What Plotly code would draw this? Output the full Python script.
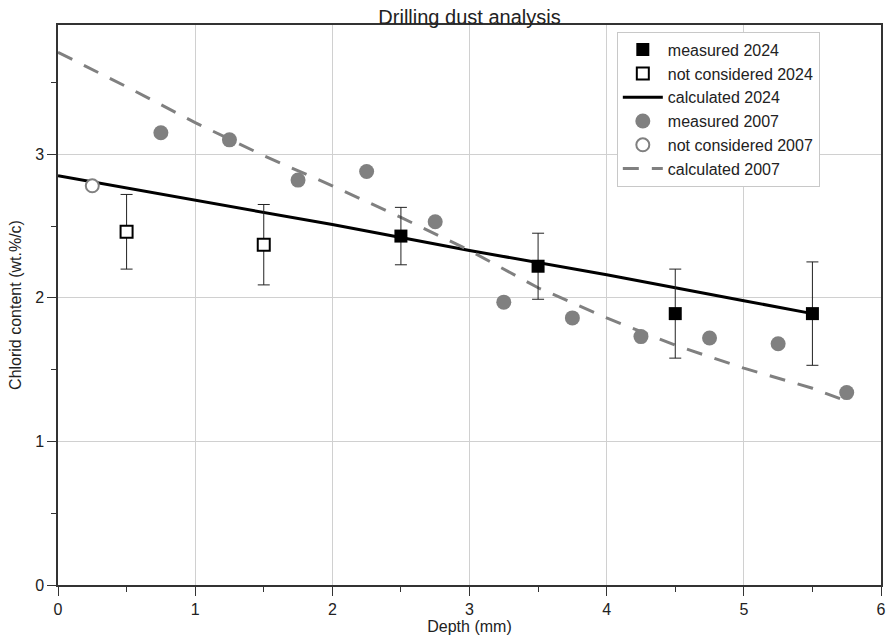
import plotly.graph_objects as go

# 2024 measured
x_meas24 = [2.5, 3.5, 4.5, 5.5]
y_meas24 = [2.43, 2.22, 1.89, 1.89]
err_meas24 = [0.20, 0.23, 0.31, 0.36]

# 2024 not considered
x_nc24 = [0.5, 1.5]
y_nc24 = [2.46, 2.37]
err_nc24 = [0.26, 0.28]

# 2024 calculated
x_calc24 = [0, 1, 2, 3, 4, 5, 5.5]
y_calc24 = [2.85, 2.68, 2.51, 2.33, 2.16, 1.98, 1.89]

# 2007 measured
x_meas07 = [0.75, 1.25, 1.75, 2.25, 2.75, 3.25, 3.75, 4.25, 4.75, 5.25, 5.75]
y_meas07 = [3.15, 3.10, 2.82, 2.88, 2.53, 1.97, 1.86, 1.73, 1.72, 1.68, 1.34]

# 2007 not considered
x_nc07 = [0.25]
y_nc07 = [2.78]

# 2007 calculated
x_calc07 = [0, 0.5, 1, 1.5, 2, 2.5, 3, 3.5, 4, 4.5, 5, 5.5, 5.75]
y_calc07 = [3.71, 3.47, 3.22, 2.99, 2.78, 2.56, 2.33, 2.07, 1.86, 1.67, 1.51, 1.37, 1.28]

GRAY = "#808080"
FONT = "Liberation Sans, Arial, sans-serif"

fig = go.Figure()

# lines first (drawn underneath), legend order controlled by legendrank
fig.add_trace(go.Scatter(
    x=x_calc24, y=y_calc24, mode="lines", name="calculated 2024", legendrank=3,
    line=dict(color="black", width=3),
))
fig.add_trace(go.Scatter(
    x=x_calc07, y=y_calc07, mode="lines", name="calculated 2007", legendrank=6,
    line=dict(color=GRAY, width=3, dash="16px,13px"),
))
fig.add_trace(go.Scatter(
    x=x_meas24, y=y_meas24, mode="markers", name="measured 2024", legendrank=1,
    marker=dict(symbol="square", size=13, color="black"),
    error_y=dict(type="data", array=err_meas24, color="#222", thickness=1, width=6),
))
fig.add_trace(go.Scatter(
    x=x_nc24, y=y_nc24, mode="markers", name="not considered 2024", legendrank=2,
    marker=dict(symbol="square", size=12, color="white", line=dict(color="black", width=2)),
    error_y=dict(type="data", array=err_nc24, color="#222", thickness=1, width=6),
))
fig.add_trace(go.Scatter(
    x=x_meas07, y=y_meas07, mode="markers", name="measured 2007", legendrank=4,
    marker=dict(symbol="circle", size=15, color=GRAY),
))
fig.add_trace(go.Scatter(
    x=x_nc07, y=y_nc07, mode="markers", name="not considered 2007", legendrank=5,
    marker=dict(symbol="circle", size=13, color="white", line=dict(color=GRAY, width=2)),
))

fig.update_layout(
    width=887, height=641,
    margin=dict(l=58, r=1, t=25, b=56),
    paper_bgcolor="white", plot_bgcolor="white",
    font=dict(family=FONT, color="#222", size=14),
    title=dict(text="Drilling dust analysis", x=0.5, xref="paper", xanchor="center",
               y=1, yref="paper", yanchor="bottom", pad=dict(b=1),
               font=dict(size=20, color="#222")),
    legend=dict(
        x=0.679, y=0.988, xanchor="left", yanchor="top",
        bgcolor="white", bordercolor="#c8c8c8", borderwidth=1,
        font=dict(size=16, color="#222"),
        traceorder="normal", tracegroupgap=0, itemwidth=40,
    ),
    showlegend=True,
)

fig.update_xaxes(
    range=[0, 6], dtick=1, tick0=0, showgrid=True, gridcolor="#d0d0d0", gridwidth=1,
    showline=True, linecolor="#333", linewidth=1.5, mirror=True, zeroline=False,
    ticks="outside", ticklen=9, tickcolor="#333", ticklabeloverflow="allow",
    minor=dict(dtick=0.5, ticks="outside", ticklen=5, tickcolor="#333", showgrid=False),
    title=dict(text="Depth (mm)", font=dict(size=16), standoff=3),
    tickfont=dict(size=16),
)
fig.update_yaxes(
    range=[0, 3.9], dtick=1, tick0=0, showgrid=True, gridcolor="#d0d0d0", gridwidth=1,
    showline=True, linecolor="#333", linewidth=1.5, mirror=True, zeroline=False,
    ticks="outside", ticklen=9, tickcolor="#333",
    minor=dict(dtick=0.5, ticks="outside", ticklen=5, tickcolor="#333", showgrid=False),
    title=dict(text="Chlorid content (wt.%/c)", font=dict(size=16), standoff=10),
    tickfont=dict(size=16),
)

fig.write_html("out.html")
